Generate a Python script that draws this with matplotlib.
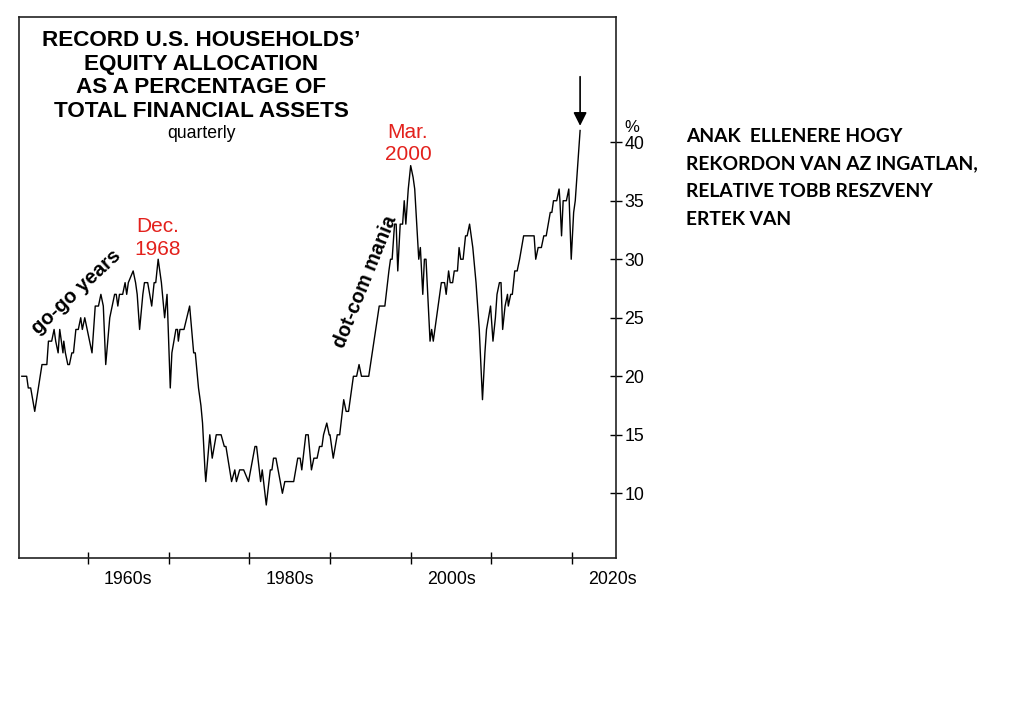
import matplotlib.pyplot as plt
from matplotlib.ticker import FixedLocator, NullFormatter

# Quarterly readings (decimal year, percent of total financial assets)
years = [
    1951.8, 1952.4, 1952.6, 1952.9, 1953.4, 1954.3, 1954.9, 1955.1, 1955.5,
    1955.8, 1956.0, 1956.3, 1956.5, 1956.9, 1957.0, 1957.2, 1957.5, 1957.7,
    1958.0, 1958.2, 1958.5, 1958.8, 1959.1, 1959.3, 1959.6, 1959.9, 1960.2,
    1960.5, 1960.9, 1961.3, 1961.6, 1961.9, 1962.2, 1962.7, 1963.0, 1963.3,
    1963.5, 1963.7, 1963.9, 1964.3, 1964.6, 1964.8, 1965.0, 1965.6, 1965.9,
    1966.1, 1966.4, 1966.8, 1967.0, 1967.4, 1967.9, 1968.2, 1968.4, 1968.7,
    1969.1, 1969.5, 1969.8, 1970.2, 1970.4, 1970.9, 1971.1, 1971.2, 1971.4,
    1971.9, 1972.6, 1973.1, 1973.3, 1973.7, 1974.0, 1974.2, 1974.5, 1974.6,
    1975.1, 1975.4, 1975.9, 1976.5, 1976.9, 1977.1, 1977.8, 1978.2, 1978.4,
    1978.8, 1979.3, 1979.9, 1980.7, 1980.9, 1981.4, 1981.6, 1982.1, 1982.6,
    1982.8, 1983.0, 1983.3, 1984.1, 1984.4, 1985.5, 1986.0, 1986.3, 1986.5,
    1987.0, 1987.3, 1987.7, 1988.0, 1988.4, 1988.7, 1989.0, 1989.2, 1989.6,
    1989.9, 1990.0, 1990.4, 1990.9, 1991.2, 1991.7, 1992.0, 1992.3, 1992.9,
    1993.3, 1993.6, 1993.9, 1994.8, 1996.1, 1996.8, 1997.3, 1997.5, 1997.7,
    1998.0, 1998.2, 1998.4, 1998.7, 1999.0, 1999.2, 1999.4, 1999.7, 2000.0,
    2000.3, 2000.5, 2001.0, 2001.2, 2001.5, 2001.7, 2001.9, 2002.4, 2002.6,
    2002.8, 2003.2, 2003.4, 2003.8, 2004.2, 2004.4, 2004.7, 2004.9, 2005.2,
    2005.4, 2005.8, 2006.0, 2006.2, 2006.5, 2006.8, 2007.0, 2007.3, 2007.7,
    2008.1, 2008.5, 2008.9, 2009.2, 2009.4, 2009.9, 2010.2, 2010.5, 2010.7,
    2011.0, 2011.2, 2011.4, 2011.7, 2012.0, 2012.1, 2012.4, 2012.6, 2012.9,
    2013.2, 2013.5, 2014.0, 2015.3, 2015.5, 2015.8, 2016.2, 2016.5, 2016.8,
    2017.3, 2017.5, 2017.7, 2018.1, 2018.4, 2018.5, 2018.7, 2018.9, 2019.3,
    2019.6, 2019.9, 2020.2, 2020.4, 2021.0,
]
equity_share = [
    20, 20, 19, 19, 17, 21, 21, 23, 23,
    24, 23, 22, 24, 22, 23, 22, 21, 21,
    22, 22, 24, 24, 25, 24, 25, 24, 23,
    22, 26, 26, 27, 26, 21, 25, 26, 27,
    27, 26, 27, 27, 28, 27, 28, 29, 28,
    27, 24, 27, 28, 28, 26, 28, 28, 30,
    28, 25, 27, 19, 22, 24, 24, 23, 24,
    24, 26, 22, 22, 19, 17.5, 16, 12, 11,
    15, 13, 15, 15, 14, 14, 11, 12, 11,
    12, 12, 11, 14, 14, 11, 12, 9, 12,
    12, 13, 13, 10, 11, 11, 13, 13, 12,
    15, 15, 12, 13, 13, 14, 14, 15, 16,
    15, 15, 13, 15, 15, 18, 17, 17, 20,
    20, 21, 20, 20, 26, 26, 29, 30, 30,
    33, 33, 29, 33, 33, 35, 33, 36, 38,
    37, 36, 30, 31, 27, 30, 30, 23, 24,
    23, 25, 26, 28, 28, 27, 29, 28, 28,
    29, 29, 31, 30, 30, 32, 32, 33, 31,
    28, 24, 18, 22, 24, 26, 23, 25, 27,
    28, 28, 24, 26, 27, 26, 27, 27, 29,
    29, 30, 32, 32, 30, 31, 31, 32, 32,
    34, 34, 35, 35, 36, 35, 32, 35, 35,
    36, 30, 34, 35, 41,
]

decade_ticks = [1960, 1970, 1980, 1990, 2000, 2010, 2020]
decade_label_pos = [1965, 1985, 2005, 2025]
decade_labels = ["1960s", "1980s", "2000s", "2020s"]
y_ticks = [10, 15, 20, 25, 30, 35, 40]

title = ("RECORD U.S. HOUSEHOLDS\u2019\nEQUITY ALLOCATION\n"
         "AS A PERCENTAGE OF\nTOTAL FINANCIAL ASSETS")
side_note = ("ANAK  ELLENERE HOGY\nREKORDON VAN AZ INGATLAN,\n"
             "RELATIVE TOBB RESZVENY\nERTEK VAN")

W, H = 1014, 720
RED = "#e3211c"


def px(x, y):
    """Convert pixel position (from top-left) to figure fraction."""
    return x / W, 1 - y / H


def main():
    """Draw the household equity allocation chart and save it as out.png."""
    plt.rcParams['font.family'] = ['Liberation Sans', 'DejaVu Sans']

    fig = plt.figure(figsize=(W / 100, H / 100), dpi=100)
    ax = fig.add_axes([19 / W, 1 - 558 / H, (616 - 19) / W, (558 - 17) / H])

    # The series itself
    ax.plot(years, equity_share, color='black', linewidth=1.0)

    ax.set_xlim(1951.45, 2025.45)
    ax.set_ylim(4.47, 50.7)

    # Box around the plot
    for side in ax.spines.values():
        side.set_linewidth(1.2)
        side.set_color('#222222')

    # X axis: decade ticks, labels centred between them
    ax.xaxis.set_major_locator(FixedLocator(decade_ticks))
    ax.xaxis.set_major_formatter(NullFormatter())
    ax.xaxis.set_minor_locator(FixedLocator(decade_label_pos))
    ax.set_xticklabels(decade_labels, minor=True)
    ax.tick_params(axis='x', which='major', direction='inout', length=8,
                   width=1.0)
    ax.tick_params(axis='x', which='minor', length=0, pad=9, labelsize=12.8)

    # Y axis on the right side
    ax.yaxis.tick_right()
    ax.set_yticks(y_ticks)
    ax.tick_params(axis='y', direction='inout', length=8, width=1.0,
                   labelsize=12.8, pad=2)
    fig.text(*px(632, 128), "%", ha='center', va='center', fontsize=12)

    # Title block
    fig.text(*px(201, 76), title, ha='center', va='center', fontsize=16.2,
             fontweight='bold', linespacing=1.17)
    fig.text(*px(202, 134), "quarterly", ha='center', va='center',
             fontsize=12.7)

    # Peak labels
    fig.text(*px(158, 238), "Dec.\n1968", ha='center', va='center',
             fontsize=15, color=RED, linespacing=1.25)
    fig.text(*px(408, 143.5), "Mar.\n2000", ha='center', va='center',
             fontsize=15, color=RED, linespacing=1.25)

    # Era labels
    fig.text(*px(76, 292), "go-go years", ha='center', va='center',
             fontsize=14.5, fontweight='bold', rotation=43)
    fig.text(*px(365, 282), "dot-com mania", ha='center', va='center',
             fontsize=14.2, fontweight='bold', rotation=68)

    # Arrow pointing at the latest reading
    ax.annotate("", xy=(years[-1], 41.4), xytext=(years[-1], 45.6),
                arrowprops=dict(arrowstyle='-|>', color='black', lw=1.2,
                                mutation_scale=20, shrinkA=0, shrinkB=0))

    # Hungarian note on the right
    fig.text(*px(686, 178), side_note, ha='left', va='center', fontsize=13.9,
             fontweight='bold', linespacing=1.76,
             family=['Lato', 'Liberation Sans'])

    fig.savefig("out.png", dpi=100)


if __name__ == "__main__":
    main()
